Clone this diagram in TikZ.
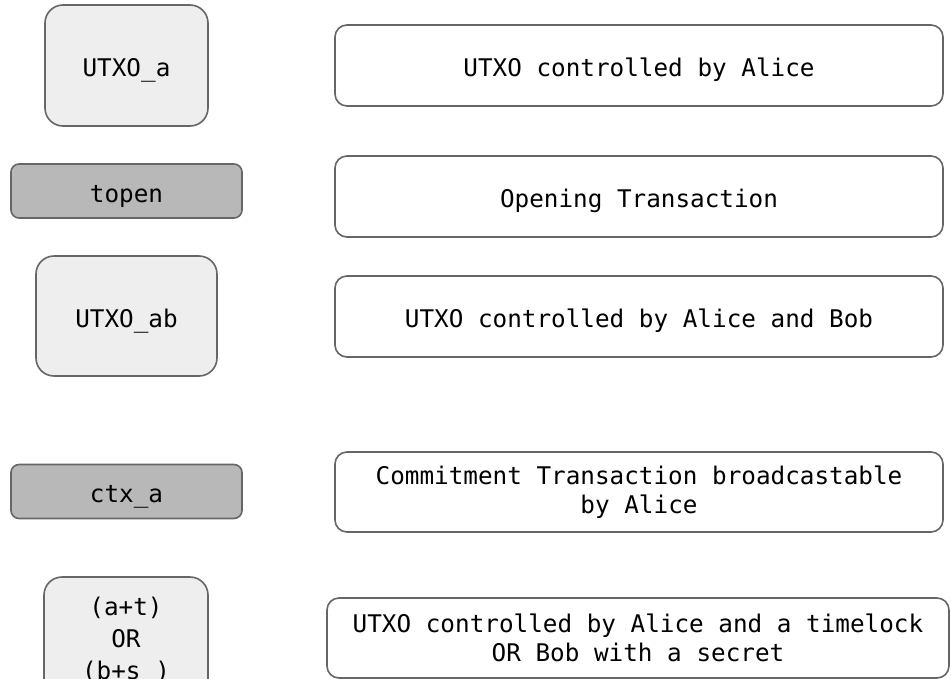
\documentclass[tikz,border=0pt]{standalone}
\usepackage{fontspec}
\setmonofont{DejaVu Sans Mono}
\begin{document}
\begin{tikzpicture}[x=1pt,y=-1pt,
  base/.style={draw=edgegray, line width=1.6pt, inner sep=0pt, align=center,
    font=\ttfamily\fontsize{24.3}{29.5}\selectfont, text=black},
  oneline/.style={text height=22.7pt, text depth=0pt},
  utxo/.style={base, fill=lightfill, rounded corners=18pt},
  txbar/.style={base, oneline, fill=darkfill, rounded corners=8pt, minimum width=231pt, minimum height=54pt},
  desc/.style={base, fill=white, rounded corners=12pt, minimum width=608pt, minimum height=81pt}
]
\definecolor{edgegray}{HTML}{666666}
\definecolor{lightfill}{HTML}{EEEEEE}
\definecolor{darkfill}{HTML}{B8B8B8}
\useasboundingbox (0,0) rectangle (951,678);
\clip (0,0) rectangle (951,678);

% left column: outputs and transactions
\node[utxo, oneline, minimum width=163pt, minimum height=121pt] (utxoa) at (126.5,65.5) {UTXO\_a};
\node[txbar] (topen) at (126.5,191) {topen};
\node[utxo, oneline, minimum width=181pt, minimum height=120pt] (utxoab) at (126.5,316) {UTXO\_ab};
\node[txbar] (ctxa) at (126.5,491.5) {ctx\_a};
\node[utxo, minimum width=164pt, minimum height=128pt,
      font=\ttfamily\fontsize{24.3}{32}\selectfont] (utxoat) at (126,641) {(a+t)\\OR\\(b+s\_)};

% right column: descriptions
\node[desc, oneline] (d1) at (639,65.5) {UTXO controlled by Alice};
\node[desc, oneline] (d2) at (639,196.5) {Opening Transaction};
\node[desc, oneline] (d3) at (639,316.5) {UTXO controlled by Alice and Bob};
\node[desc, minimum height=80pt] (d4) at (639,492) {Commitment Transaction broadcastable\\by Alice};
\node[desc, minimum width=622pt, minimum height=80pt] (d5) at (638,638) {UTXO controlled by Alice and a timelock\\OR Bob with a secret};
\end{tikzpicture}
\end{document}
